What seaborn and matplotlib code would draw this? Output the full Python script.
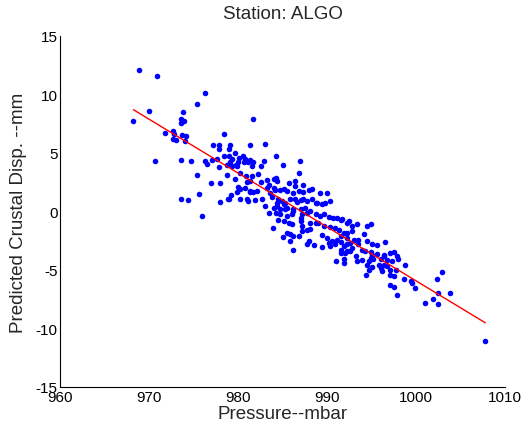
import matplotlib
matplotlib.use("Agg")
import matplotlib.pyplot as plt
import seaborn as sns
import pandas as pd
import numpy as np

pressure = [
    968.8, 970.9, 976.3, 975.3, 970.0, 973.8, 968.2, 973.5, 973.6, 973.9,
    971.7, 972.6, 972.8, 973.7, 974.1, 972.7, 973.0, 974.0, 978.4, 977.1,
    977.8, 979.1, 977.8, 979.0, 979.6, 970.6, 973.5, 974.7, 976.3, 976.5,
    977.0, 977.6, 978.4, 979.0, 979.3, 980.1, 980.5, 980.8, 981.3, 977.8,
    979.7, 979.3, 979.8, 981.3,
    975.4, 978.7, 979.6, 976.9, 977.9, 980.0, 975.6, 979.2, 979.8, 973.5,
    974.3, 977.9, 978.8, 979.0, 980.2, 981.0, 981.1, 975.9, 981.3, 978.7,
    980.2, 980.9, 981.0, 979.1, 980.0, 980.6,
    981.7, 983.0, 984.2, 985.0, 986.9, 986.8, 982.9, 982.5, 981.1, 981.5,
    981.7, 981.5, 982.2, 981.3, 982.5, 983.2, 983.4, 984.0, 984.2, 984.3,
    985.7, 986.4, 986.4, 987.3, 980.2, 980.7, 981.3, 981.7, 982.1, 983.2,
    984.0, 984.1, 983.6, 984.7, 985.1, 985.5, 986.2, 986.8, 987.3, 987.9,
    988.3, 989.2, 990.0, 981.9, 982.7, 983.8, 984.5, 984.3, 984.9, 985.1,
    985.8, 986.4, 987.0, 987.3, 987.7, 988.3, 988.85, 989.4, 989.8, 990.35,
    983.0, 984.0, 984.7, 985.5, 986.2, 987.0, 987.5, 988.1, 988.7, 989.6,
    990.2, 991.1, 991.7, 983.4, 984.7, 985.5, 986.0, 987.0,
    984.3, 985.3, 986.6, 988.7, 984.2, 985.3, 986.2, 987.2, 987.7, 989.2,
    990.7, 991.5, 992.2, 984.5, 985.1, 985.65, 986.0, 987.0, 987.2, 988.1,
    988.7, 989.0, 989.6, 990.35, 990.9, 991.3, 991.85, 992.2, 983.85, 985.5,
    985.8, 986.2, 986.8, 987.2, 987.7, 988.1, 985.0, 985.8, 987.7, 987.9,
    988.5, 989.4, 989.4, 990.0, 990.2, 990.35, 990.5, 990.9, 991.1, 991.5,
    991.85, 991.5, 992.2, 992.6, 986.1, 991.0, 991.85,
    992.5, 992.8, 993.4, 994.5, 994.9, 992.8, 994.1, 991.5, 992.2, 993.0,
    993.5, 994.5, 995.0, 995.6, 996.5, 992.2, 992.8, 993.5, 993.9, 991.5,
    992.0, 992.6, 993.2, 994.3, 994.9, 995.0, 995.6, 996.35, 997.1, 997.5,
    997.9, 991.85, 993.4, 993.9, 994.7, 995.2, 996.0, 996.7, 997.3, 998.0,
    998.8, 994.5, 995.0, 996.0, 996.7, 997.7, 994.7, 996.2, 997.1, 997.5,
    998.6, 994.4, 999.4, 999.55, 1002.4, 1002.9, 997.1, 997.5, 999.9,
    1002.5, 1003.8, 1001.0, 1001.9, 1002.5, 1007.8, 997.9, 997.1, 994.9,
    996.35, 995.8, 996.35,
]

displacement = [
    12.1, 11.6, 10.1, 9.2, 8.6, 8.5, 7.7, 7.9, 7.6, 7.7,
    6.75, 6.9, 6.6, 6.5, 6.45, 6.2, 6.1, 6.0, 6.6, 5.7,
    5.7, 5.7, 5.3, 5.3, 5.0, 4.35, 4.4, 4.35, 4.3, 4.1,
    4.4, 4.5, 4.7, 4.75, 4.5, 4.55, 4.7, 4.45, 4.4, 3.8,
    4.0, 3.9, 3.85, 5.65,
    3.15, 3.1, 2.8, 2.45, 2.45, 2.1, 1.5, 1.45, 1.7, 1.1,
    1.0, 0.85, 1.05, 1.1, 1.1, 1.1, 0.9, -0.35, 1.7, 4.0,
    3.3, 3.0, 2.5, 4.2, 4.2, 4.2,
    7.9, 5.8, 4.7, 4.0, 4.35, 3.3, 4.3, 3.9, 4.2, 3.9,
    4.2, 3.0, 3.2, 2.6, 2.55, 2.65, 2.3, 2.75, 2.9, 2.6,
    2.4, 2.6, 2.2, 2.25, 1.9, 2.0, 1.75, 1.65, 1.75, 2.0,
    2.0, 1.8, 1.55, 1.85, 1.95, 1.75, 1.6, 1.75, 1.65, 1.85,
    1.9, 1.6, 1.55, 0.95, 1.1, 1.2, 1.1, 0.75, 0.9, 0.6,
    1.05, 1.1, 0.95, 1.1, 0.9, 1.05, 0.75, 0.6, 0.75, 0.9,
    0.45, 0.3, 0.2, 0.3, 0.2, 0.25, 0.3, 0.0, -0.2, -0.25,
    -0.45, -0.55, -0.6, -0.1, -0.25, -0.4, -0.25, -0.55,
    0.45, 0.75, 0.8, 0.7, -0.15, 0.2, 0.0, -0.25, -0.1, -0.4,
    -0.55, -0.7, -0.95, -0.7, -0.85, -0.95, -1.1, -0.85, -1.25, -0.95,
    -1.0, -0.95, -1.25, -1.3, -1.4, -1.55, -1.8, -1.8, -1.4, -1.8,
    -1.95, -2.1, -2.1, -1.7, -1.55, -1.5, -2.15, -2.55, -2.75, -2.55,
    -2.9, -2.05, -3.0, -2.25, -2.7, -2.95, -2.55, -2.8, -2.4, -2.6,
    -2.95, -3.55, -3.4, -2.7, -3.3, -4.2, -4.4,
    -0.85, -1.25, -1.1, -1.25, -1.1, -1.7, -1.9, -2.1, -2.25, -2.4,
    -2.4, -2.55, -2.75, -2.9, -2.6, -2.8, -3.1, -2.8, -3.25, -3.25,
    -3.55, -3.4, -3.8, -3.4, -3.5, -3.7, -3.6, -3.7, -3.55, -3.5,
    -3.8, -4.1, -4.25, -4.15, -4.25, -4.1, -4.1, -4.15, -4.25, -4.1,
    -4.6, -4.55, -4.75, -4.8, -4.7, -5.0, -5.0, -5.1, -5.4, -5.55,
    -5.75, -5.4, -5.95, -6.15, -5.75, -5.15, -6.25, -6.45, -6.55,
    -7.0, -7.0, -7.8, -7.5, -7.9, -11.1, -7.1, -5.0, -3.95,
    -3.8, -4.55, -4.55,
]

title_text = "Station: ALGO"
x_label = "Pressure--mbar"
y_label = "Predicted Crustal Disp. --mm"
x_ticks = [960, 970, 980, 990, 1000, 1010]
y_ticks = [-15, -10, -5, 0, 5, 10, 15]

df = pd.DataFrame({"pressure": pressure, "disp": displacement})

sns.set_style("white")
plt.rcParams["font.family"] = ["Liberation Sans", "DejaVu Sans"]

fig = plt.figure(figsize=(5.22, 4.31), dpi=100)
ax = fig.add_axes([0.1159, 0.0998, 0.8515, 0.8144])

sns.scatterplot(data=df, x="pressure", y="disp", color="#0000ff", s=16,
                linewidth=0, ax=ax, zorder=2)
sns.regplot(data=df, x="pressure", y="disp", scatter=False, ci=None,
            color="#ff0000", line_kws={"linewidth": 1.0, "zorder": 3}, ax=ax)

ax.set_xlim(960, 1010)
ax.set_ylim(-15, 15)
ax.set_xticks(x_ticks)
ax.set_yticks(y_ticks)
ax.set_xticklabels([str(t) for t in x_ticks], fontsize=11)
ax.set_yticklabels([str(t) for t in y_ticks], fontsize=11)
ax.tick_params(direction="in", length=3, width=0.8, color="black",
               labelcolor="black", pad=2)
ax.set_xlabel(x_label, fontsize=13.5, labelpad=1)
ax.set_ylabel(y_label, fontsize=13.5, labelpad=6)
ax.set_title(title_text, fontsize=13.5, pad=13)

for side in ["top", "right"]:
    ax.spines[side].set_visible(False)
for side in ["left", "bottom"]:
    ax.spines[side].set_color("black")
    ax.spines[side].set_linewidth(0.8)

fig.savefig("out.png", dpi=100, facecolor="white")
